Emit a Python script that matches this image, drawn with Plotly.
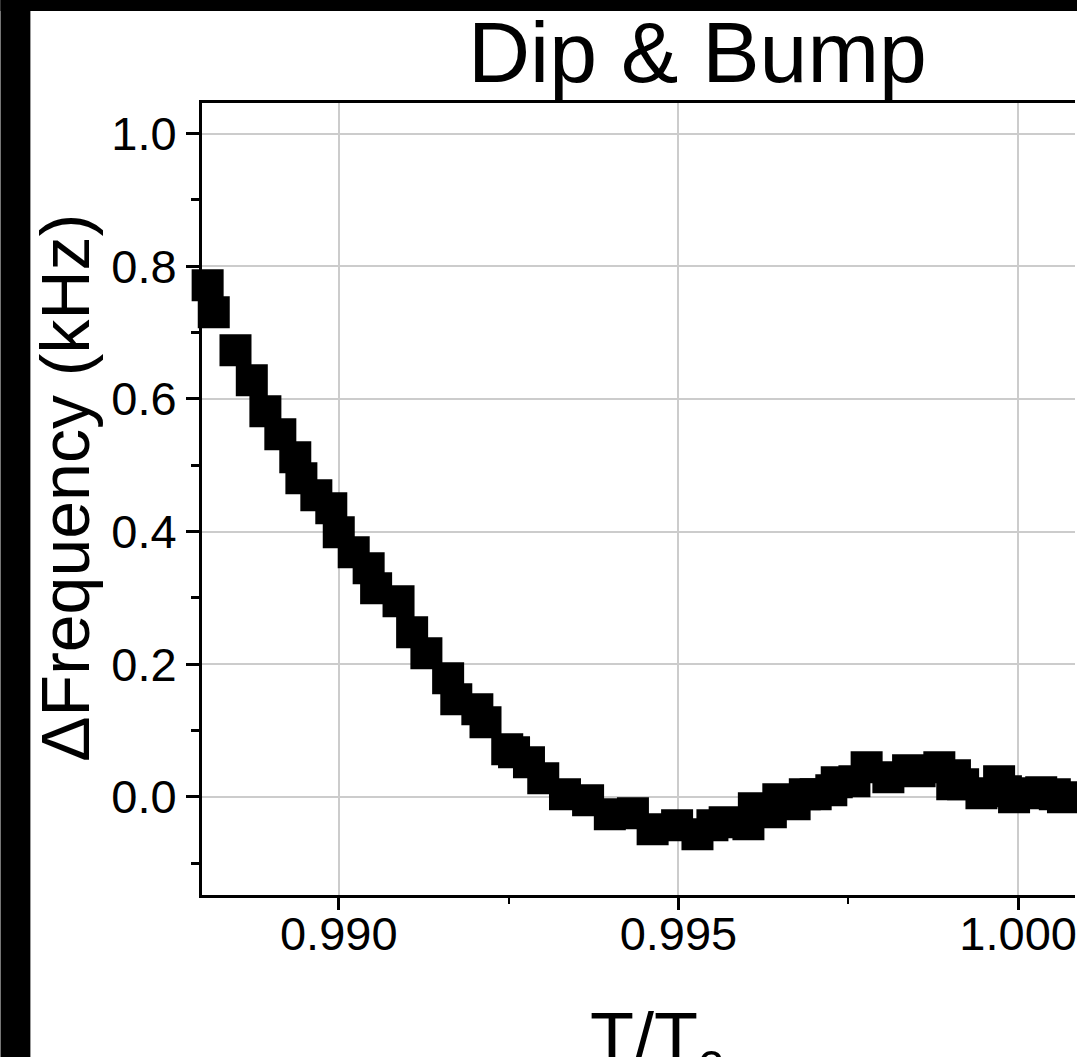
import plotly.graph_objects as go

# ---- data ----
t_ratio = [0.98807, 0.98816, 0.98848, 0.98872, 0.98892, 0.98914, 0.98936, 0.98945,
           0.98967, 0.98989, 0.99000, 0.99022, 0.99044, 0.99055, 0.99088, 0.99108,
           0.99129, 0.99161, 0.99173, 0.99204, 0.99216, 0.99248, 0.99258, 0.99280,
           0.99301, 0.99333, 0.99367, 0.99399, 0.99433, 0.99462, 0.99498, 0.99528,
           0.99550, 0.99568, 0.99603, 0.99611, 0.99636, 0.99647, 0.99671, 0.99686,
           0.99702, 0.99725, 0.99733, 0.99759, 0.99777, 0.99809, 0.99838, 0.99855,
           0.99884, 0.99903, 0.99907, 0.99919, 0.99946, 0.99972, 0.99982, 0.99994,
           1.00019, 1.00034, 1.00054, 1.00066, 1.00101]
delta_freq = [0.7714, 0.7307, 0.6733, 0.6281, 0.5814, 0.5467, 0.5120, 0.4803,
              0.4547, 0.4351, 0.3989, 0.3687, 0.3446, 0.3144, 0.2948, 0.2481,
              0.2164, 0.1787, 0.1470, 0.1320, 0.1124, 0.0716, 0.0671, 0.0520,
              0.0279, 0.0038, -0.0053, -0.0264, -0.0249, -0.0490, -0.0430, -0.0566,
              -0.0430, -0.0385, -0.0415, -0.0173, -0.0234, -0.0038, -0.0113, 0.0038,
              0.0038, 0.0098, 0.0219, 0.0234, 0.0445, 0.0294, 0.0400, 0.0385,
              0.0445, 0.0189, 0.0324, 0.0189, 0.0053, 0.0234, 0.0083, -0.0008,
              0.0053, 0.0068, 0.0038, -0.0008, 0.0143]

x_tickvals = [0.990, 0.995, 1.000]
x_ticktext = ["0.990", "0.995", "1.000"]
y_tickvals = [0.0, 0.2, 0.4, 0.6, 0.8, 1.0]
y_ticktext = ["0.0", "0.2", "0.4", "0.6", "0.8", "1.0"]

chart_title = "Dip &amp; Bump"
x_title = "T/T<sub>c</sub>"
y_title = "ΔFrequency (kHz)"

x_range = [0.987987, 1.000837]
y_range = [-0.148, 1.046]

FONT = "Liberation Sans, Arial, sans-serif"

W, H = 1077, 1057
ML, MR, MT, MB = 202, 0, 103, 162
PW = W - ML - MR
PH = H - MT - MB


def px(xp):
    return (xp - ML) / PW


def py(yp):
    return (H - MB - yp) / PH


fig = go.Figure()
fig.add_trace(go.Scatter(
    x=t_ratio, y=delta_freq, mode="markers",
    marker=dict(symbol="square", size=32, color="black", line=dict(width=0)),
    cliponaxis=False, showlegend=False, hoverinfo="skip",
))

fig.update_layout(
    width=W, height=H,
    margin=dict(l=ML, r=MR, t=MT, b=MB, pad=0),
    paper_bgcolor="white", plot_bgcolor="white",
    font=dict(family=FONT, color="black"),
    xaxis=dict(
        range=x_range, tickmode="array", tickvals=x_tickvals, ticktext=x_ticktext,
        showline=True, linewidth=3, linecolor="black", mirror=True,
        ticks="outside", ticklen=12, tickwidth=3, tickcolor="black",
        showgrid=True, gridcolor="#cccccc", gridwidth=1.5, zeroline=False,
        tickfont=dict(size=47, family=FONT, color="black"),
        ticklabeloverflow="allow", ticklabelstandoff=-16,
        minor=dict(tick0=0.99, dtick=0.0025, ticks="outside", ticklen=6,
                   tickwidth=2, tickcolor="black", showgrid=False),
    ),
    yaxis=dict(
        range=y_range, tickmode="array", tickvals=y_tickvals, ticktext=y_ticktext,
        showline=True, linewidth=3, linecolor="black", mirror=False,
        ticks="outside", ticklen=13, tickwidth=3, tickcolor="black",
        showgrid=True, gridcolor="#cccccc", gridwidth=1.5, zeroline=False,
        tickfont=dict(size=47, family=FONT, color="black"),
        ticklabeloverflow="allow",
        minor=dict(tick0=0.0, dtick=0.1, ticks="outside", ticklen=8,
                   tickwidth=3, tickcolor="black", showgrid=False),
    ),
    shapes=[
        dict(type="rect", xref="paper", yref="paper",
             x0=px(0), x1=px(30), y0=py(H), y1=py(0),
             fillcolor="black", line=dict(width=0), layer="above"),
        dict(type="rect", xref="paper", yref="paper",
             x0=px(0), x1=px(W + 5), y0=py(11), y1=py(0),
             fillcolor="black", line=dict(width=0), layer="above"),
    ],
    annotations=[
        dict(text=chart_title, xref="paper", yref="paper", x=px(699), y=py(52),
             xanchor="center", yanchor="middle", showarrow=False,
             font=dict(size=86, family=FONT, color="black")),
        dict(text=y_title, xref="paper", yref="paper", x=px(64.5), y=py(488),
             xanchor="center", yanchor="middle", textangle=-90, showarrow=False,
             font=dict(size=68, family=FONT, color="black")),
        dict(text=x_title, xref="paper", yref="paper", x=px(658), y=py(996),
             xanchor="center", yanchor="top", showarrow=False,
             font=dict(size=72, family=FONT, color="black")),
    ],
)

fig.write_html("out.html", config={"displayModeBar": False})
